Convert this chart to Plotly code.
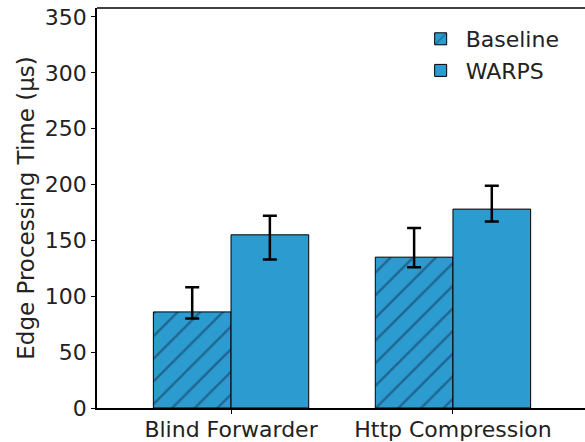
import plotly.graph_objects as go

categories = ["Blind Forwarder", "Http Compression"]
baseline = [86, 135]
baseline_plus = [22, 26]
baseline_minus = [6, 9]
warps = [155, 178]
warps_plus = [17, 21]
warps_minus = [22, 11]

bar_color = "#2b9bd0"
font = "DejaVu Sans"

fig = go.Figure()
fig.add_trace(go.Bar(
    x=categories, y=baseline, name="Baseline",
    marker=dict(color=bar_color, line=dict(color="black", width=1),
                pattern=dict(shape="/", fgcolor="#13314f", size=16, solidity=0.15)),
    error_y=dict(type="data", array=baseline_plus, arrayminus=baseline_minus,
                 color="black", thickness=2.5, width=7),
))
fig.add_trace(go.Bar(
    x=categories, y=warps, name="WARPS",
    marker=dict(color=bar_color, line=dict(color="black", width=1)),
    error_y=dict(type="data", array=warps_plus, arrayminus=warps_minus,
                 color="black", thickness=2.5, width=7),
))

fig.add_shape(type="line", xref="paper", yref="paper", x0=0, x1=1, y0=1, y1=1,
              line=dict(color="black", width=1.5))

fig.update_layout(
    width=585, height=442,
    margin=dict(l=97, r=0, t=8, b=34),
    paper_bgcolor="white", plot_bgcolor="white",
    barmode="group", bargap=0.3, bargroupgap=0,
    font=dict(family=font, size=22, color="#222"),
    showlegend=True,
    legend=dict(x=0.653, y=0.975, xanchor="left", yanchor="top",
                bgcolor="rgba(255,255,255,0.8)",
                font=dict(size=22), itemwidth=40, tracegroupgap=0),
    xaxis=dict(range=[-0.604, 1.595], showline=True, linecolor="black", linewidth=1.5,
               ticks="outside", ticklen=4, tickcolor="black", mirror=False,
               tickfont=dict(size=22), automargin=False, ticklabelstandoff=-3),
    yaxis=dict(range=[0, 358], tickvals=[0, 50, 100, 150, 200, 250, 300, 350],
               showline=True, linecolor="black", linewidth=1.5, showgrid=False,
               ticks="outside", ticklen=4, tickcolor="black", zeroline=False,
               title=dict(text="Edge Processing Time (μs)", font=dict(size=23), standoff=4),
               tickfont=dict(size=22), automargin=False),
)

fig.write_html("out.html")
